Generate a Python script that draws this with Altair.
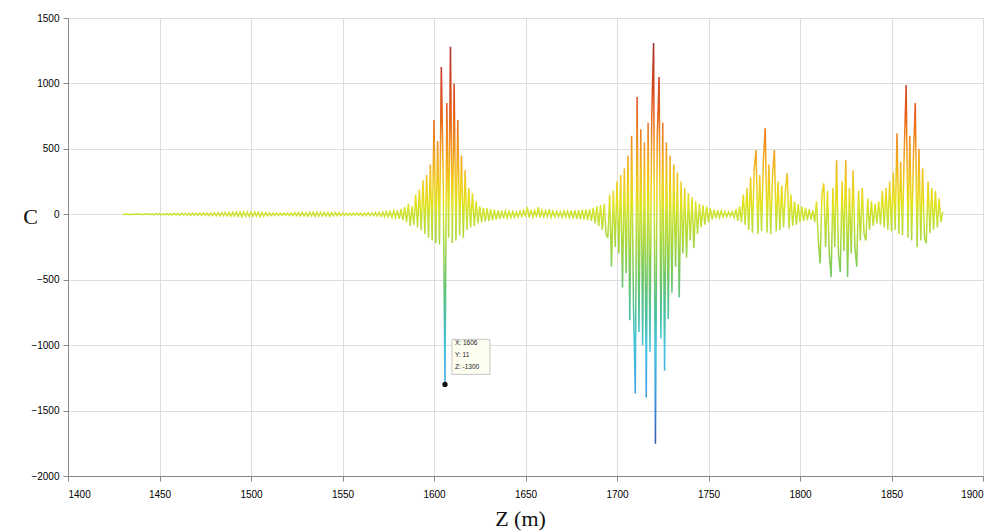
import altair as alt
import pandas as pd
import numpy as np

# ---- data ----
quiet_start = 1430
quiet_vals = [
    1, -1, 2, -2, 1, -2, 2, -1, 3, -2,
    2, -3, 3, -2, 4, -3, 3, -4, 4, -3,
    5, -4, 4, -5, 6, -5, 5, -6, 6, -5,
    6, -7, 7, -6, 8, -7, 7, -8, 8, -7,
    8, -9, 9, -8, 10, -9, 9, -10, 10, -9,
    11, -10, 12, -11, 12, -13, 14, -12, 15, -14,
    16, -15, 18, -16, 17, -18, 19, -17, 18, -16,
    17, -16, 18, -15, 16, -17, 15, -14, 13, -12,
    11, -10, 10, -9, 9, -10, 8, -9, 8, -7,
    8, -9, 10, -11, 12, -11, 13, -12, 14, -13,
    14, -15, 16, -14, 15, -16, 17, -15, 16, -14,
    15, -13, 14, -15, 13, -12, 13, -11, 12, -10,
    9, -8, 8, -9, 7, -8, 8, -7, 9, -8,
    9, -10, 10, -11, 12, -10, 11, -12, 13, -12,
    14, -15, 16, -18, 20, -19, 22, -24, 26, -25,
    30, -35, 40, -45, 55, -60, 80, -90,
]
burst1_start = 1588
burst1_vals = [
    60, -80, 150, -100, 190, -120, 260, -150, 300, -180,
    380, -200, 720, -220, 560, -230, 1125, 300, -1300, 850,
    -180, 1280, -220, 1000, -200, 720, -160, 450, -180, 337,
    -120, 200, -100, 160, -90, 100, -70, 60, -60,
]
mid_start = 1627
mid_vals = [
    50, -55, 45, -50, 40, -45, 35, -40, 30, -35,
    28, -30, 25, -28, 22, -25, 20, -22, 18, -20,
    22, -18, 30, -20, 54, -25, 35, -20, 30, -22,
    54, -25, 30, -20, 28, -18, 40, -22, 25, -20,
    22, -18, 20, -22, 25, -20, 24, -25, 28, -30,
    30, -35, 32, -38, 35, -40, 38, -45, 40, -50,
    50, -70, 60, -90, 70, -120, 80, -150,
]
burst2_start = 1695
burst2_vals = [
    -180, 150, -400, 180, -250, 250, -300, 300, -560, 350,
    -450, 450, -810, 600, -700, -1370, 896, -900, 650, -1000,
    550, -1400, 700, -1050, 750, 1309, -1753, 600, 1049, -950,
    700, -1195, 550, -800, 450, -600, 380, -400, 320, -635,
    250, -300, 200, -330, 160, -200, 130, -260, 100, -150,
    80, -100, 70, -80, 60, -60,
]
gap_start = 1751
gap_vals = [45, -40, 35, -30, 30, -25, 25, -20, 20, -18, 18, -15, 20, -25, 40, -50]
burst3_start = 1767
burst3_vals = [
    60, -60, 150, -80, 200, -120, 280, -140, 350, 490,
    -150, 300, -130, 420, 658, -140, 380, -150, 300, 490,
    -130, 250, -120, 220, -100, 180, 314, -110, 150, -90,
    100, -80, 80, -60, 60, -50, 50, -45, 40, -40,
    30, -60,
]
burst4_start = 1809
burst4_vals = [
    100, -200, -375, 150, 237, -250, 180, -300, -480, 200,
    -250, 413, -300, -440, 250, -280, 413, -480, 200, -300,
    337, -250, -400, 180, -200, 200, -150, -200, 120, -120,
    100, -90, 80, -70,
]
burst5_start = 1843
burst5_vals = [
    100, -80, 180, -100, 200, -120, 250, -130, 320, -120,
    620, -150, 400, -160, 500, 988, -180, 600, -200, 450,
    850, -252, 500, -200, 350, -180, -222, 250, -145, 200,
    -120, 180, -100, 120, -60, 20,
]

x_ticks = [1400, 1450, 1500, 1550, 1600, 1650, 1700, 1750, 1800, 1850, 1900]
y_ticks = [-2000, -1500, -1000, -500, 0, 500, 1000, 1500]

tip_x, tip_y, tip_label = 1606, -1300, "X: 1606\nY: 11\nZ: -1300"

segments = [
    (quiet_start, quiet_vals), (burst1_start, burst1_vals), (mid_start, mid_vals),
    (burst2_start, burst2_vals), (gap_start, gap_vals), (burst3_start, burst3_vals),
    (burst4_start, burst4_vals), (burst5_start, burst5_vals),
]
zs, cs = [], []
for start, vals in segments:
    zs.extend(start + np.arange(len(vals)))
    cs.extend(vals)
df = pd.DataFrame({"z": zs, "c": cs}).sort_values("z")

vmax, vmin = max(cs), min(cs)
color_pts = [
    (1309, "#9c2f2a"), (1100, "#c83a22"), (800, "#e65a1e"), (500, "#f29a20"),
    (250, "#f0cc20"), (80, "#e2e21e"), (0, "#cde234"), (-200, "#a8d83c"),
    (-500, "#6cc66a"), (-800, "#48c0a8"), (-1000, "#46c4dc"), (-1300, "#3fa6e0"),
    (-1550, "#3a7cd0"), (-1753, "#3a55a8"),
]
stops = [alt.GradientStop(offset=float((vmax - v) / (vmax - vmin)), color=col) for v, col in color_pts]
grad = alt.LinearGradient(gradient="linear", stops=stops, x1=0, x2=0, y1=0, y2=1)

xscale = alt.Scale(domain=[1400, 1900], nice=False)
yscale = alt.Scale(domain=[-2000, 1500], nice=False)

line = alt.Chart(df).mark_line(color=grad, strokeWidth=1.5, interpolate="linear").encode(
    x=alt.X("z:Q", scale=xscale, axis=alt.Axis(
        values=x_ticks, format="d", title="Z (m)", titleX=452, titleY=49,
        titleBaseline="alphabetic", titleAlign="center", titleFont="Liberation Serif",
        titleFontSize=22, titleFontWeight="normal", titleColor="#111", labelPadding=8)),
    y=alt.Y("c:Q", scale=yscale, axis=alt.Axis(
        values=y_ticks, format="d", title="C", titleAngle=0, titleX=-38, titleY=205,
        titleAlign="center", titleBaseline="alphabetic", titleFont="Liberation Serif",
        titleFontSize=22, titleFontWeight="normal", titleColor="#111", labelPadding=4)),
)

tip_df = pd.DataFrame({"z": [tip_x], "c": [tip_y], "label": [tip_label]})
box = alt.Chart(tip_df).mark_rect(
    fill="#fdfdf0", stroke="#b8b8b8", strokeWidth=0.8,
    xOffset=7, x2Offset=45, yOffset=-45, y2Offset=-10,
).encode(x="z:Q", x2="z:Q", y="c:Q", y2="c:Q")
txt = alt.Chart(tip_df).mark_text(
    align="left", baseline="top", dx=10, dy=-44, fontSize=6.5, lineBreak="\n",
    lineHeight=12, font="Liberation Sans", color="#222",
).encode(x="z:Q", y="c:Q", text="label:N")
dot = alt.Chart(tip_df).mark_point(filled=True, color="#111", size=28, opacity=1).encode(
    x="z:Q", y="c:Q")

chart = alt.layer(line, box, txt, dot).properties(
    width=915, height=458,
    autosize=alt.AutoSizeParams(type="none"),
    padding={"left": 68, "top": 18, "right": 11, "bottom": 56},
).configure_view(stroke="#d0d0d0", strokeWidth=1).configure_axis(
    domainColor="#c4c4c4", domainWidth=2, gridColor="#e0e0e0", gridWidth=1,
    tickColor="#b0b0b0", tickSize=3, labelColor="#7a7a7a", labelFont="Liberation Sans",
    labelFontSize=7,
).configure(background="white")

chart.save("out.html", embed_options={"renderer": "svg", "actions": False})
